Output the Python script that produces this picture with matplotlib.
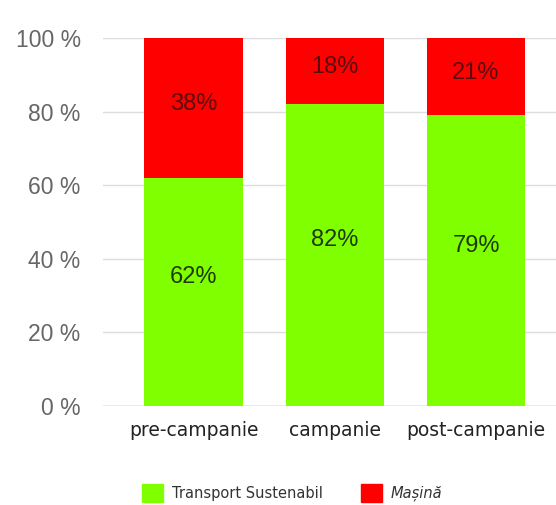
import matplotlib
matplotlib.use("Agg")
import matplotlib.pyplot as plt
from matplotlib.patches import Patch
from matplotlib import font_manager as fm
import numpy as np

categories = ["pre-campanie", "campanie", "post-campanie"]
sustenabil = [62, 82, 79]
masina = [38, 18, 21]
yticks = [0, 20, 40, 60, 80, 100]
ytick_labels = ["0 %", "20 %", "40 %", "60 %", "80 %", "100 %"]
series_names = ["Transport Sustenabil", "Mașină"]

GREEN = "#80ff00"
RED = "#ff0000"

# locate the regular (non-narrow) Liberation Sans file
lib_path = None
for f in fm.findSystemFonts():
    if f.endswith("LiberationSans-Regular.ttf"):
        lib_path = f
        break

def helv(size):
    if lib_path:
        return fm.FontProperties(fname=lib_path, size=size)
    return fm.FontProperties(family="DejaVu Sans", size=size)

fig = plt.figure(figsize=(5.56, 5.05), dpi=100)
ax = fig.add_axes([0.185, 0.196, 0.815, 0.729])

x = np.arange(len(categories))
w = 0.70
ax.bar(x, sustenabil, width=w, color=GREEN, zorder=3)
ax.bar(x, masina, width=w, bottom=sustenabil, color=RED, zorder=3)

for xi, s, m in zip(x, sustenabil, masina):
    ax.text(xi, s / 2 + 4, f"{s}%", ha="center", va="center",
            fontproperties=helv(17), color="#1e3a05", zorder=4)
    ax.text(xi, s + m / 2 + 1, f"{m}%", ha="center", va="center",
            fontproperties=helv(17), color="#5a0c0c", zorder=4)

ax.set_xlim(-0.645, 2.567)
ax.set_ylim(0, 100)
ax.set_yticks(yticks)
ax.set_yticklabels(ytick_labels, fontproperties=helv(16.5), color="#666666")
for t in yticks:
    ax.axhline(t, color="#999999" if t == 0 else "#dddddd", lw=1, zorder=1)
ax.tick_params(axis="y", length=0, pad=16)
ax.tick_params(axis="x", length=0, pad=11)
ax.set_xticks(x)
ax.set_xticklabels(categories, family="DejaVu Sans", fontsize=13.5, color="#222222")
for s in ax.spines.values():
    s.set_visible(False)

handles = [Patch(color=GREEN), Patch(color=RED)]
leg = fig.legend(handles, series_names, loc="center left", bbox_to_anchor=(0.256, 0.024),
                 ncol=2, frameon=False, fontsize=10.5, handlelength=1.45, handleheight=1.45,
                 columnspacing=2.65, handletextpad=0.55, borderaxespad=0, borderpad=0)
for t in leg.get_texts():
    t.set_color("#333333")
leg.get_texts()[1].set_style("italic")

fig.savefig("out.png", dpi=100)
